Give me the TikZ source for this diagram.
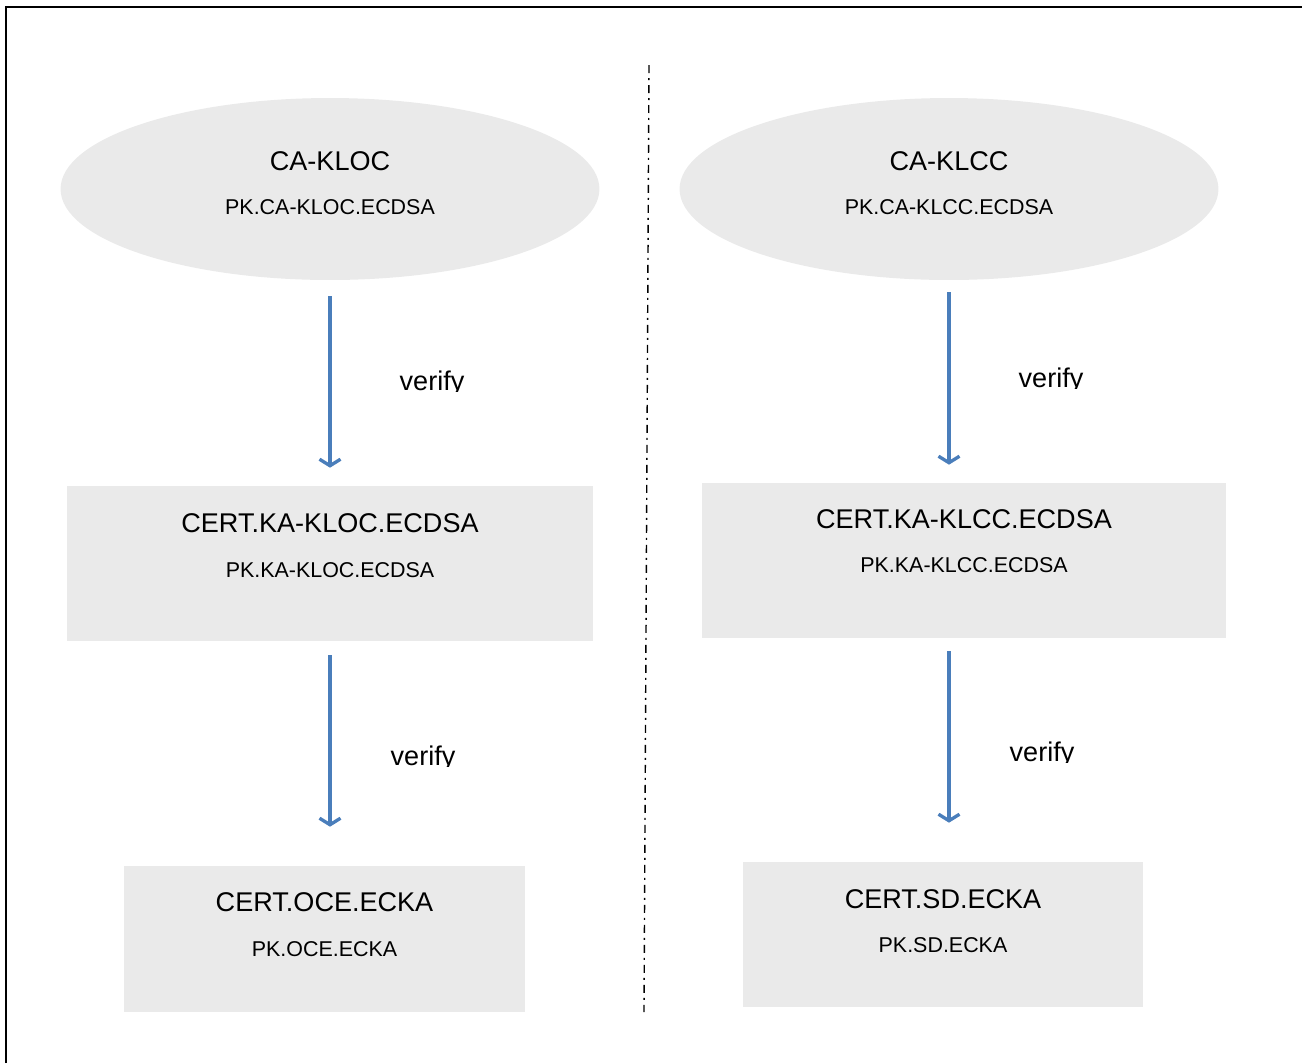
\documentclass[tikz,border=0pt]{standalone}
\usepackage{fontspec}
\setmainfont{Liberation Sans}
\usetikzlibrary{shapes.geometric,positioning,calc,arrows.meta}
\definecolor{boxgray}{HTML}{EAEAEA}
\definecolor{flowblue}{HTML}{4A7EBB}
\tikzset{ca/.style={ellipse,fill=boxgray,inner sep=0pt,
minimum width=10.78cm, minimum height=3.64cm},
cert/.style={rectangle,fill=boxgray,inner sep=0pt},
titletext/.style={inner sep=0pt, font=\fontsize{15.4}{15.4}\selectfont},
pktext/.style={inner sep=0pt, font=\fontsize{12.2}{12.2}\selectfont},
flow/.style={draw=flowblue, line width=1.9pt,
-{Straight Barb[length=0.13cm,width=0.42cm]}},
sepline/.style={line width=0.8pt, dash pattern=on 0.16cm off 0.1cm on 0.04cm off 0.1cm}}

\begin{document}
\begin{tikzpicture}[x=0.02cm,y=-0.02cm]
  \useasboundingbox (0,0) rectangle (1302,1063);
  \draw [line width=1.2pt] (6,1063) -- (6,7) -- (1302,7);

  % left chain
  \node (kloc) [ca] at (330,189) {};
  \node (kloc title) [titletext] at ($(kloc)+(0,-28)$) {CA-KLOC};
  \node (kloc pk) [pktext] at ($(kloc title)+(0,46)$) {PK.CA-KLOC.ECDSA};
  \node (kakloc) [cert, minimum width=10.52cm, minimum height=3.1cm] at (330,563.5) {};
  \node (kakloc title) [titletext] at ($(kakloc.north)+(0,38)$) {CERT.KA-KLOC.ECDSA};
  \node (kakloc pk) [pktext] at ($(kakloc title)+(0,46)$) {PK.KA-KLOC.ECDSA};
  \node (oce) [cert, minimum width=8.02cm, minimum height=2.92cm] at (324.5,939) {};
  \node (oce title) [titletext] at ($(oce.north)+(0,37)$) {CERT.OCE.ECKA};
  \node (oce pk) [pktext] at ($(oce title)+(0,46)$) {PK.OCE.ECKA};

  % right chain
  \node (klcc) [ca] at (949,189) {};
  \node (klcc title) [titletext] at ($(klcc)+(0,-28)$) {CA-KLCC};
  \node (klcc pk) [pktext] at ($(klcc title)+(0,46)$) {PK.CA-KLCC.ECDSA};
  \node (kaklcc) [cert, minimum width=10.48cm, minimum height=3.1cm] at (964,560.5) {};
  \node (kaklcc title) [titletext] at ($(kaklcc.north)+(0,37)$) {CERT.KA-KLCC.ECDSA};
  \node (kaklcc pk) [pktext] at ($(kaklcc title)+(0,45)$) {PK.KA-KLCC.ECDSA};
  \node (sd) [cert, minimum width=8.0cm, minimum height=2.9cm] at (943,934.5) {};
  \node (sd title) [titletext] at ($(sd.north)+(0,38)$) {CERT.SD.ECKA};
  \node (sd pk) [pktext] at ($(sd title)+(0,45)$) {PK.SD.ECKA};

  % verify arrows
  \draw [flow, shorten <=0.32cm, shorten >=0.36cm] (kloc.south) -- (kloc.south |- kakloc.north);
  \draw [flow, shorten <=0.28cm, shorten >=0.78cm] (kakloc.south) -- (kakloc.south |- oce.north);
  \draw [flow, shorten <=0.24cm, shorten >=0.36cm] (klcc.south) -- (klcc.south |- kaklcc.north);
  \draw [flow, shorten <=0.26cm, shorten >=0.78cm] (klcc.south |- kaklcc.south) -- (klcc.south |- sd.north);
  \foreach \n/\x/\y in {v1/432/390, v2/423/765, v3/1051/387, v4/1042/761} {
    \begin{scope}
      \clip (\x-60,\y-40) rectangle (\x+60,\y+1.5);
      \node (\n) [titletext, anchor=base] at (\x,\y) {verify};
    \end{scope}
  }

  % separator
  \coordinate (sep top) at (649,65);
  \coordinate (sep bot) at (644,1012);
  \draw [sepline] (sep top) -- (sep bot);
\end{tikzpicture}
\end{document}
